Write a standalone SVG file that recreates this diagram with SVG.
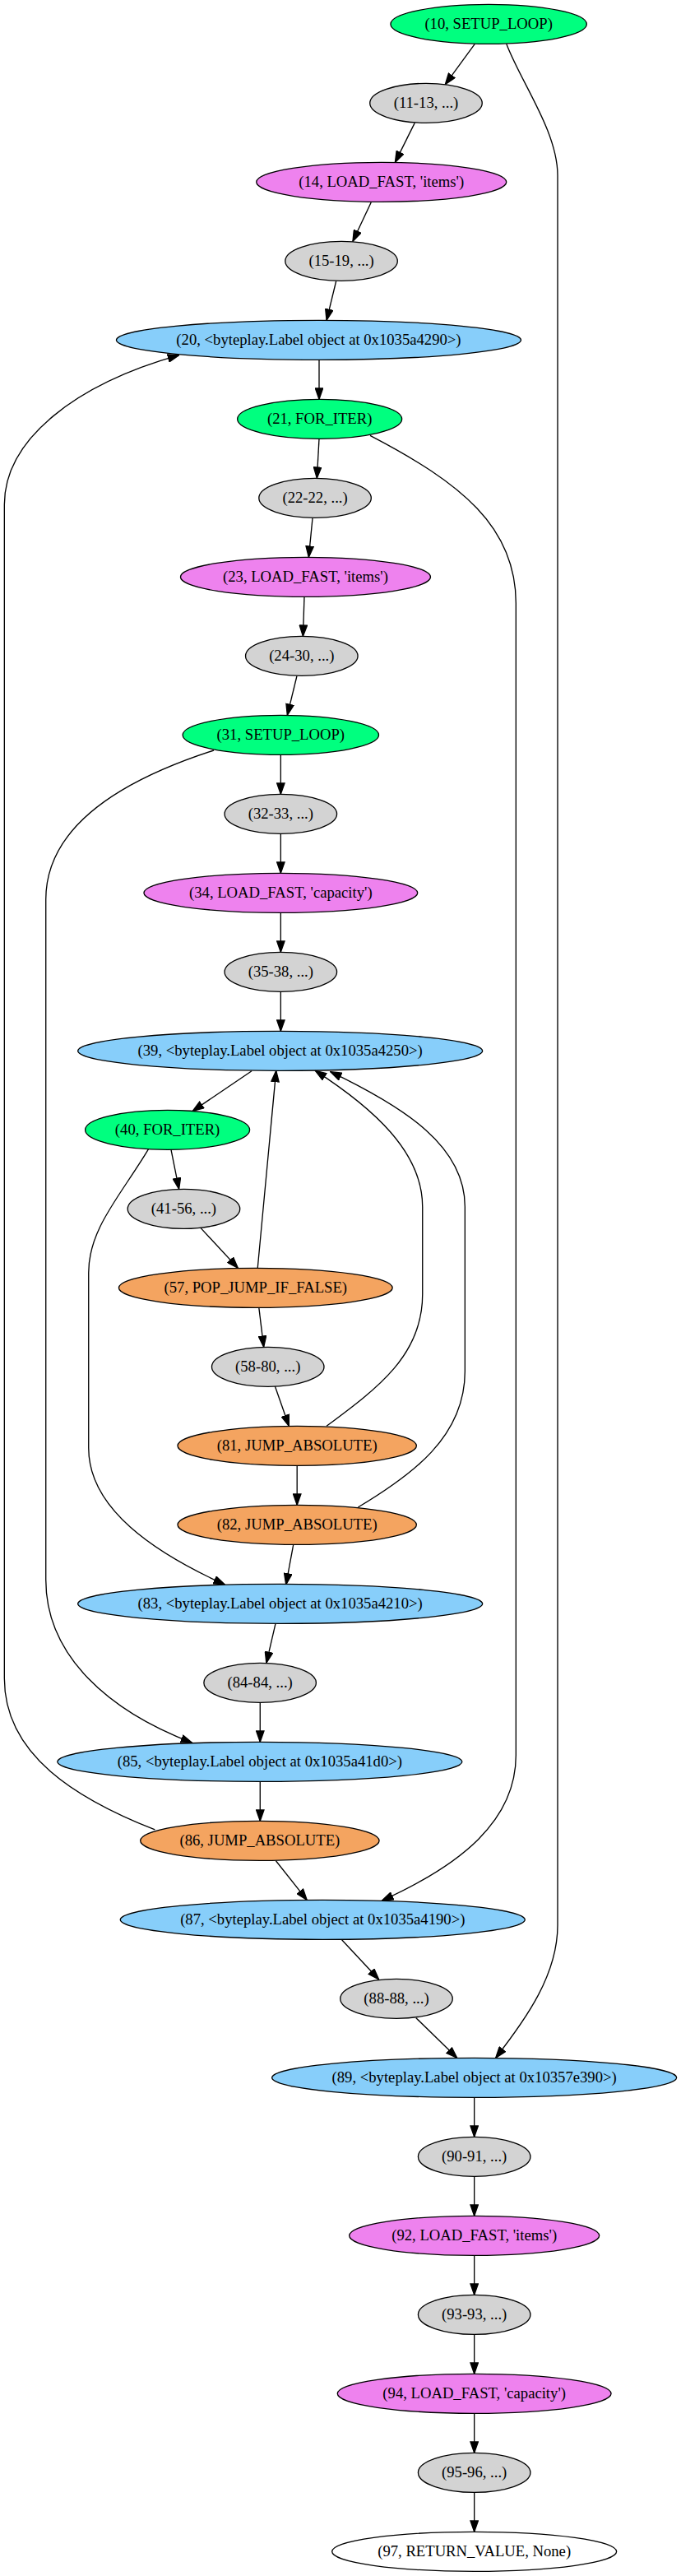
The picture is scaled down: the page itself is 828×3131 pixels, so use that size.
<svg xmlns="http://www.w3.org/2000/svg" width="828" height="3131" viewBox="0 0 828 3131">
<style>
.n ellipse{stroke:#000;stroke-width:1}
.n text{font-family:"Liberation Serif","Times New Roman",serif;font-size:14px;text-anchor:middle;fill:#000}
.g ellipse{fill:#00ff7f}
.c ellipse{fill:#d3d3d3}
.v ellipse{fill:#ee82ee}
.b ellipse{fill:#87cefa}
.o ellipse{fill:#f4a460}
.w ellipse{fill:#ffffff}
#edges path{fill:none;stroke:#000;stroke-width:1;marker-end:url(#arr)}
</style>
<defs>
<marker id="arr" markerUnits="userSpaceOnUse" markerWidth="11" markerHeight="8" refX="10" refY="3.5" orient="auto" viewBox="-0.5 -0.5 11 8">
<path d="M0,0 L10,3.5 L0,7 Z" fill="#000" stroke="#000" stroke-width="1"/>
</marker>
</defs>
<rect width="828" height="3131" fill="#fff"/>
<g transform="scale(1.33333)">
<g id="edges">
<path d="M433,40 L406,77"/>
<path d="M461.8,40 C475,75 508.5,120 508.5,160 L508.5,1755 C508.5,1800 480,1840 452,1876"/>
<path d="M378.2,112 L360.3,148"/>
<path d="M338.4,184.5 L321.7,220"/>
<path d="M306.5,256.3 L297.8,292"/>
<path d="M291,328 L291,364"/>
<path d="M291,400 L289,436"/>
<path d="M285,472.5 L281.5,508"/>
<path d="M277.5,544 L276.3,580"/>
<path d="M270.7,616.3 L262,652"/>
<path d="M256,688 L256,724"/>
<path d="M256,760 L256,796"/>
<path d="M256,832 L256,868"/>
<path d="M256,904 L256,940"/>
<path d="M229.5,976.3 L175.7,1012.8"/>
<path d="M156,1048 L163.2,1084"/>
<path d="M183.1,1119.5 L217,1156"/>
<path d="M234.9,1156.3 L251.8,976"/>
<path d="M236.1,1192 L240.5,1228"/>
<path d="M250.8,1263.8 L263.5,1300"/>
<path d="M297.8,1300 C345,1265 385.3,1235 385.3,1180 L385.3,1100 C385.3,1050 340,1010 287.5,976"/>
<path d="M326.5,1374 C375,1345 424,1310 424,1250 L424,1100 C424,1045 370,1010 301.3,977"/>
<path d="M270.9,1336 L270.9,1372"/>
<path d="M267.5,1408.3 L260.8,1444.5"/>
<path d="M135.4,1047.5 C110,1090 80.8,1120 80.8,1160 L80.8,1320 C80.8,1375 140,1415 205,1444.5"/>
<path d="M251.3,1479.8 L242.9,1516"/>
<path d="M237.2,1552 L237.2,1588"/>
<path d="M195,684 C130,705 41.8,745 41.8,820 L41.8,1440 C41.8,1510 100,1560 175.2,1588.7"/>
<path d="M237.2,1624 L237.2,1660"/>
<path d="M141.3,1668 C70,1640 4,1600 4,1530 L4,460 C4,400 70,350 163.2,323.8"/>
<path d="M251.6,1696.3 L279.9,1732"/>
<path d="M337.5,397 C420,440 470.5,480 470.5,550 L470.5,1600 C470.5,1660 420,1700 348.4,1732.5"/>
<path d="M311.7,1768.3 L345.5,1804.5"/>
<path d="M379.4,1839.5 L416.8,1876"/>
<path d="M432.5,1912 L432.5,1948"/>
<path d="M432.5,1984 L432.5,2020"/>
<path d="M432.5,2056 L432.5,2092"/>
<path d="M432.5,2128 L432.5,2164"/>
<path d="M432.5,2200 L432.5,2236"/>
<path d="M432.5,2272 L432.5,2308"/>
</g>
<g id="n10" class="n g"><ellipse cx="445.6" cy="22" rx="89.4" ry="18"/><text x="445.6" y="26.2">(10, SETUP_LOOP)</text></g>
<g id="n11" class="n c"><ellipse cx="388.5" cy="94" rx="51.2" ry="18"/><text x="388.5" y="98.2">(11-13, ...)</text></g>
<g id="n14" class="n v"><ellipse cx="347.8" cy="166" rx="114" ry="18"/><text x="347.8" y="170.2">(14, LOAD_FAST, 'items')</text></g>
<g id="n15" class="n c"><ellipse cx="311.3" cy="238" rx="51.2" ry="18"/><text x="311.3" y="242.2">(15-19, ...)</text></g>
<g id="n20" class="n b"><ellipse cx="290.6" cy="310" rx="184.5" ry="18"/><text x="290.6" y="314.2">(20, &lt;byteplay.Label object at 0x1035a4290&gt;)</text></g>
<g id="n21" class="n g"><ellipse cx="291.5" cy="382" rx="75" ry="18"/><text x="291.5" y="386.2">(21, FOR_ITER)</text></g>
<g id="n22" class="n c"><ellipse cx="287.3" cy="454" rx="51.2" ry="18"/><text x="287.3" y="458.2">(22-22, ...)</text></g>
<g id="n23" class="n v"><ellipse cx="278.6" cy="526" rx="114" ry="18"/><text x="278.6" y="530.2">(23, LOAD_FAST, 'items')</text></g>
<g id="n24" class="n c"><ellipse cx="275.1" cy="598" rx="51.2" ry="18"/><text x="275.1" y="602.2">(24-30, ...)</text></g>
<g id="n31" class="n g"><ellipse cx="256" cy="670" rx="89.4" ry="18"/><text x="256" y="674.2">(31, SETUP_LOOP)</text></g>
<g id="n32" class="n c"><ellipse cx="256" cy="742" rx="51.2" ry="18"/><text x="256" y="746.2">(32-33, ...)</text></g>
<g id="n34" class="n v"><ellipse cx="256" cy="814" rx="124.8" ry="18"/><text x="256" y="818.2">(34, LOAD_FAST, 'capacity')</text></g>
<g id="n35" class="n c"><ellipse cx="256" cy="886" rx="51.2" ry="18"/><text x="256" y="890.2">(35-38, ...)</text></g>
<g id="n39" class="n b"><ellipse cx="255.5" cy="958" rx="184.5" ry="18"/><text x="255.5" y="962.2">(39, &lt;byteplay.Label object at 0x1035a4250&gt;)</text></g>
<g id="n40" class="n g"><ellipse cx="152.7" cy="1030" rx="75" ry="18"/><text x="152.7" y="1034.2">(40, FOR_ITER)</text></g>
<g id="n41" class="n c"><ellipse cx="167.6" cy="1102" rx="51.2" ry="18"/><text x="167.6" y="1106.2">(41-56, ...)</text></g>
<g id="n57" class="n o"><ellipse cx="233.1" cy="1174" rx="124.8" ry="18"/><text x="233.1" y="1178.2">(57, POP_JUMP_IF_FALSE)</text></g>
<g id="n58" class="n c"><ellipse cx="244.3" cy="1246" rx="51.2" ry="18"/><text x="244.3" y="1250.2">(58-80, ...)</text></g>
<g id="n81" class="n o"><ellipse cx="270.9" cy="1318" rx="108.9" ry="18"/><text x="270.9" y="1322.2">(81, JUMP_ABSOLUTE)</text></g>
<g id="n82" class="n o"><ellipse cx="270.9" cy="1390" rx="108.9" ry="18"/><text x="270.9" y="1394.2">(82, JUMP_ABSOLUTE)</text></g>
<g id="n83" class="n b"><ellipse cx="255.5" cy="1462" rx="184.5" ry="18"/><text x="255.5" y="1466.2">(83, &lt;byteplay.Label object at 0x1035a4210&gt;)</text></g>
<g id="n84" class="n c"><ellipse cx="237.1" cy="1534" rx="51.2" ry="18"/><text x="237.1" y="1538.2">(84-84, ...)</text></g>
<g id="n85" class="n b"><ellipse cx="236.9" cy="1606" rx="184.5" ry="18"/><text x="236.9" y="1610.2">(85, &lt;byteplay.Label object at 0x1035a41d0&gt;)</text></g>
<g id="n86" class="n o"><ellipse cx="236.9" cy="1678" rx="108.9" ry="18"/><text x="236.9" y="1682.2">(86, JUMP_ABSOLUTE)</text></g>
<g id="n87" class="n b"><ellipse cx="294.2" cy="1750" rx="184.5" ry="18"/><text x="294.2" y="1754.2">(87, &lt;byteplay.Label object at 0x1035a4190&gt;)</text></g>
<g id="n88" class="n c"><ellipse cx="361.5" cy="1822" rx="51.2" ry="18"/><text x="361.5" y="1826.2">(88-88, ...)</text></g>
<g id="n89" class="n b"><ellipse cx="432.5" cy="1894" rx="184.5" ry="18"/><text x="432.5" y="1898.2">(89, &lt;byteplay.Label object at 0x10357e390&gt;)</text></g>
<g id="n90" class="n c"><ellipse cx="432.5" cy="1966" rx="51.2" ry="18"/><text x="432.5" y="1970.2">(90-91, ...)</text></g>
<g id="n92" class="n v"><ellipse cx="432.5" cy="2038" rx="114" ry="18"/><text x="432.5" y="2042.2">(92, LOAD_FAST, 'items')</text></g>
<g id="n93" class="n c"><ellipse cx="432.5" cy="2110" rx="51.2" ry="18"/><text x="432.5" y="2114.2">(93-93, ...)</text></g>
<g id="n94" class="n v"><ellipse cx="432.5" cy="2182" rx="124.8" ry="18"/><text x="432.5" y="2186.2">(94, LOAD_FAST, 'capacity')</text></g>
<g id="n95" class="n c"><ellipse cx="432.5" cy="2254" rx="51.2" ry="18"/><text x="432.5" y="2258.2">(95-96, ...)</text></g>
<g id="n97" class="n w"><ellipse cx="432.5" cy="2326" rx="129.75" ry="18"/><text x="432.5" y="2330.2">(97, RETURN_VALUE, None)</text></g>
</g>
</svg>
